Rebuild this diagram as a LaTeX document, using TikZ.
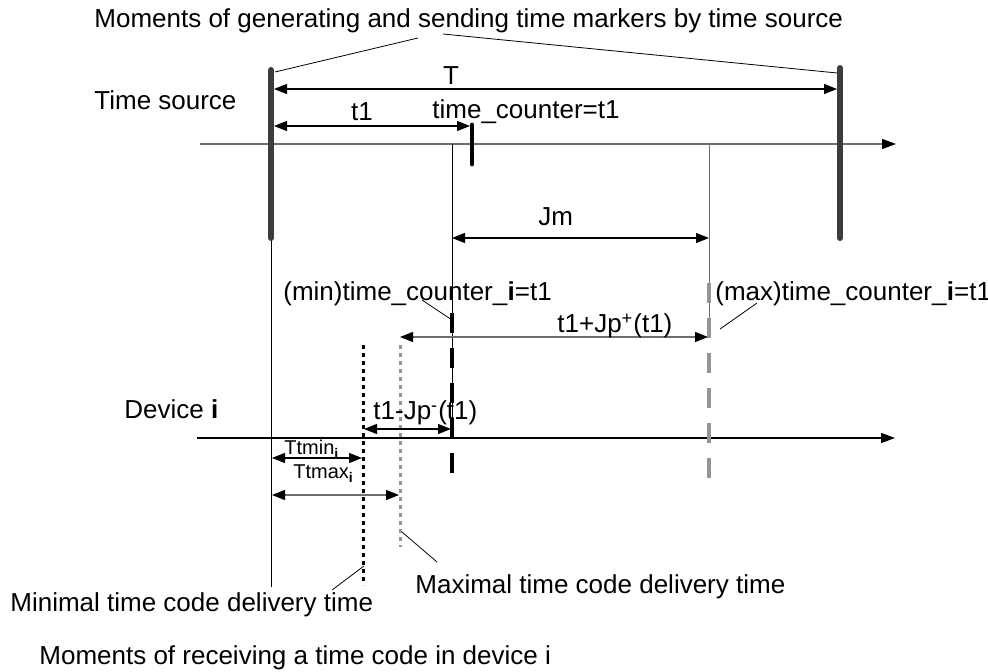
\documentclass[tikz,border=0pt]{standalone}
\usepackage{fontspec}
\setmainfont{Liberation Sans}
\usetikzlibrary{arrows.meta}
\definecolor{barcol}{HTML}{3C3C3C}
\definecolor{midgray}{HTML}{6E6E6E}
\definecolor{softgray}{HTML}{959595}
\tikzset{
  lbl/.style={inner sep=0pt, anchor=base west, font=\fontsize{13}{15}\selectfont},
  sml/.style={lbl, font=\fontsize{10}{12}\selectfont},
  axis/.style={line width=0.6pt, -{Triangle[length=7pt,width=5pt,color=black]}},
  dimline/.style={line width=0.6pt,
    {Triangle[length=6.5pt,width=5pt,color=black]}-{Triangle[length=6.5pt,width=5pt,color=black]}},
  marker/.style={line width=3pt, color=barcol, line cap=round},
  guide/.style={line width=0.5pt},
  pointer/.style={line width=0.4pt},
  dashmark/.style={line width=1.6pt, dash pattern=on 10pt off 7.5pt},
  dotmark/.style={line width=1.5pt, dash pattern=on 1.8pt off 2.2pt},
}
\begin{document}
\begin{tikzpicture}[x=0.5pt, y=-0.5pt]
\useasboundingbox (0,0) rectangle (988,672);

% ---- time axes ----
\coordinate (srcA) at (200,144);
\coordinate (srcB) at (896,144);
\coordinate (devA) at (197,438);
\coordinate (devB) at (895,438);
\draw[axis, color=midgray] (srcA) -- (srcB);
\draw[axis] (devA) -- (devB);

% ---- markers of the time source ----
\coordinate (m1top) at (271,70);
\coordinate (m1bot) at (271,238);
\coordinate (m1end) at (271,587);
\coordinate (m2top) at (840,68);
\coordinate (m2bot) at (840,238);
\draw[guide] (m1bot) -- (m1end);
\draw[marker] (m1top) -- (m1bot);
\draw[marker] (m2top) -- (m2bot);

% counter mark at t1
\coordinate (ctop) at (472,125);
\coordinate (cbot) at (472,164);
\draw[line width=2.4pt, line cap=round] (ctop) -- (cbot);

% guide lines for min and max delivery
\coordinate (gminA) at (452,144);
\coordinate (gminB) at (452,438);
\coordinate (gmaxA) at (709,144);
\coordinate (gmaxB) at (709,337);
\draw[guide] (gminA) -- (gminB);
\draw[guide, color=midgray] (gmaxA) -- (gmaxB);

% dashed receiving marks
\coordinate (dminA) at (452,313);
\coordinate (dminB) at (452,483);
\coordinate (dmaxA) at (709,283);
\coordinate (dmaxB) at (709,478);
\draw[dashmark] (dminA) -- (dminB);
\draw[dashmark, color=softgray] (dmaxA) -- (dmaxB);

% dotted delivery-time marks
\coordinate (tminA) at (363,345);
\coordinate (tminB) at (363,585);
\coordinate (tmaxA) at (400,345);
\coordinate (tmaxB) at (400,547);
\draw[dotmark] (tminA) -- (tminB);
\draw[dotmark, color=softgray] (tmaxA) -- (tmaxB);

% ---- dimension arrows ----
\coordinate (TA) at (274,89);   \coordinate (TB) at (837,89);
\coordinate (t1A) at (274,126); \coordinate (t1B) at (470,126);
\coordinate (JmA) at (452,238); \coordinate (JmB) at (709,238);
\coordinate (JpA) at (400,337); \coordinate (JpB) at (708,337);
\coordinate (JnA) at (364,429); \coordinate (JnB) at (451,429);
\coordinate (TnA) at (272,458); \coordinate (TnB) at (362,458);
\coordinate (TxA) at (272,495); \coordinate (TxB) at (399,495);
\draw[dimline] (TA) -- (TB);
\draw[dimline] (t1A) -- (t1B);
\draw[dimline] (JmA) -- (JmB);
\draw[dimline, color=midgray] (JpA) -- (JpB);
\draw[dimline] (JnA) -- (JnB);
\draw[dimline] (TnA) -- (TnB);
\draw[dimline, color=midgray] (TxA) -- (TxB);

% ---- labels ----
\node[lbl] (topnote) at (94,28) {Moments of generating and sending time markers by time source};
\node[lbl, anchor=base] (lT) at (451,85) {T};
\node[lbl] (lsrc) at (94,110) {Time source};
\node[lbl, anchor=base] (lt1) at (362,121) {t1};
\node[lbl] (lcnt) at (432,119) {time\_counter=t1};
\node[lbl] (lJm) at (538,226) {Jm};
\node[lbl] (lmin) at (283,301) {(min)time\_counter\_\textbf{i}=t1};
\node[lbl] (lmax) at (715,301) {(max)time\_counter\_\textbf{i}=t1};
\node[lbl] (lJp) at (557,333) {t1+Jp\textsuperscript{+}(t1)};
\node[lbl] (ldev) at (124,419) {Device \textbf{i}};
\node[lbl] (lJn) at (373,420) {t1-Jp\textsuperscript{-}(t1)};
\node[sml] (lTn) at (284,455) {Ttmin\textsubscript{\textbf{i}}};
\node[sml] (lTx) at (293,479) {Ttmax\textsubscript{\textbf{i}}};
\node[lbl] (lmaxd) at (415,593) {Maximal time code delivery time};
\node[lbl] (lmind) at (10,611) {Minimal time code delivery time};
\node[lbl] (lrecv) at (39,664) {Moments of receiving a time code in device i};

% ---- pointer lines ----
\coordinate (pa1) at (418,38);  \coordinate (pa2) at (275,72);
\coordinate (pb1) at (443,34);  \coordinate (pb2) at (837,73);
\coordinate (pc1) at (422,300); \coordinate (pc2) at (452,320);
\coordinate (pd1) at (757,303); \coordinate (pd2) at (720,329);
\coordinate (pe1) at (437,562); \coordinate (pe2) at (402,532);
\coordinate (pf1) at (332,590); \coordinate (pf2) at (364,566);
\draw[pointer] (pa1) -- (pa2);
\draw[pointer] (pb1) -- (pb2);
\draw[pointer] (pc1) -- (pc2);
\draw[pointer] (pd1) -- (pd2);
\draw[pointer] (pe1) -- (pe2);
\draw[pointer] (pf1) -- (pf2);
\end{tikzpicture}
\end{document}
